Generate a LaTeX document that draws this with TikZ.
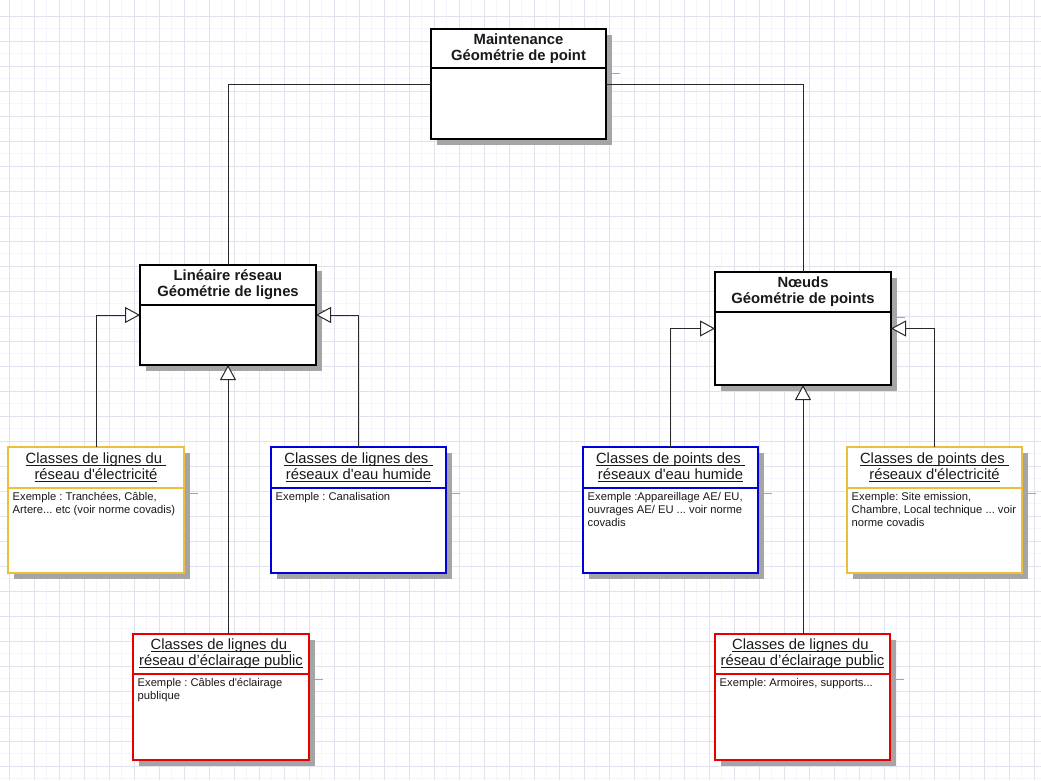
\documentclass[tikz,border=0pt]{standalone}
\usepackage{fontspec}
\setmainfont{Liberation Sans}[Ligatures=TeXOff]
\usetikzlibrary{arrows.meta}
\definecolor{gmajor}{RGB}{226,226,239}
\definecolor{gminor}{RGB}{245,245,251}
\definecolor{shadowc}{RGB}{165,165,165}
\definecolor{ybox}{RGB}{237,190,60}
\definecolor{bbox}{RGB}{0,0,220}
\definecolor{rbox}{RGB}{230,0,0}
\definecolor{conncol}{RGB}{40,40,40}
\definecolor{txtc}{RGB}{25,25,25}
\frenchspacing
\newcommand\ulin[1]{\setbox0\hbox{#1}\rlap{\rule[-2.4pt]{\wd0}{0.9pt}}\box0}
\newcommand\mkbox[9]{%
  \fill[shadowc] (#2+6,#3+6) rectangle ++(#4,#5);
  \draw[shadowc, line width=1pt] (#2+#4,#3+#6+5) -- ++(14,0);
  \node[boxbase, draw=#7, minimum width=#4pt, minimum height=#5pt, anchor=north west] (#1) at (#2,#3) {};
  \draw[draw=#7, line width=2.3pt] (#2,#3+#6) -- (#2+#4,#3+#6);
  \node[titletext] (#1t) at (#2+#4/2,#3+#6/2) {#8};
  \node[bodytext] (#1b) at (#2+4.5,#3+#6+3) {\rule{0pt}{9pt}#9};
}
\tikzset{
  boxbase/.style={rectangle, fill=white, line width=2.3pt, inner sep=0pt, outer sep=0pt},
  titletext/.style={align=center, inner sep=0pt, text=txtc, font=\fontsize{14.8}{16}\selectfont},
  bodytext/.style={align=left, anchor=north west, inner sep=0pt, text=txtc, font=\fontsize{11.2}{13.3}\selectfont},
  conn/.style={draw=conncol, line width=1pt},
  inh/.style={conn, -{Triangle[length=15pt, width=16pt, fill=white]}},
}
\begin{document}
\begin{tikzpicture}[x=1pt, y=-1pt]
\useasboundingbox (0,0) rectangle (1041,780);
\fill[white] (0,0) rectangle (1041,780);
% grid
\foreach \i in {0,...,41} {\draw[gminor, line width=0.8pt] (21.5+25*\i,0) -- (21.5+25*\i,780);}
\foreach \i in {0,...,31} {\draw[gminor, line width=0.8pt] (0,28.5+25*\i) -- (1041,28.5+25*\i);}
\foreach \i in {0,...,41} {\draw[gmajor, line width=0.8pt] (9+25*\i,0) -- (9+25*\i,780);}
\foreach \i in {0,...,31} {\draw[gmajor, line width=0.8pt] (0,16+25*\i) -- (1041,16+25*\i);}
% boxes
\mkbox{top}{431}{29}{175}{110}{39}{black}{\bfseries Maintenance\\\bfseries Géométrie de point}{}
\mkbox{lin}{140}{265}{176}{100}{40}{black}{\bfseries Linéaire réseau\\\bfseries Géométrie de lignes}{}
\mkbox{noe}{715}{272}{176}{113}{40}{black}{\bfseries Nœuds\\\bfseries Géométrie de points}{}
\mkbox{yl}{8}{447}{176}{126}{41}{ybox}{\ulin{Classes de lignes du }\\\ulin{réseau d'électricité}}{Exemple : Tranchées, Câble,\\Artere... etc (voir norme covadis)}
\mkbox{bl}{271}{447}{175}{126}{41}{bbox}{\ulin{Classes de lignes des }\\\ulin{réseaux d'eau humide}}{Exemple : Canalisation}
\mkbox{br}{583}{447}{175}{126}{41}{bbox}{\ulin{Classes de points des }\\\ulin{réseaux d'eau humide}}{Exemple :Appareillage AE/ EU,\\ouvrages AE/ EU ... voir norme\\covadis}
\mkbox{yr}{847}{447}{175}{126}{41}{ybox}{\ulin{Classes de points des }\\\ulin{réseaux d'électricité}}{Exemple: Site emission,\\Chambre, Local technique ... voir\\norme covadis}
\mkbox{rl}{133}{634}{176}{126}{40}{rbox}{\ulin{Classes de lignes du }\\\ulin{réseau d’éclairage public}}{Exemple : Câbles d'éclairage\\publique}
\mkbox{rr}{715}{634}{175}{126}{40}{rbox}{\ulin{Classes de lignes du }\\\ulin{réseau d’éclairage public}}{Exemple: Armoires, supports...}
% connectors
\draw[conn] (top.west) -| (lin.north);
\draw[conn] (top.east) -| (noe.north);
\draw[inh] (yl.north) |- (lin.west);
\draw[inh] (bl.north) |- (lin.east);
\draw[inh] (lin.south |- rl.north) -- (lin.south);
\draw[inh] (br.north) |- (noe.west);
\draw[inh] (yr.north) |- (noe.east);
\draw[inh] (noe.south |- rr.north) -- (noe.south);
\end{tikzpicture}
\end{document}
